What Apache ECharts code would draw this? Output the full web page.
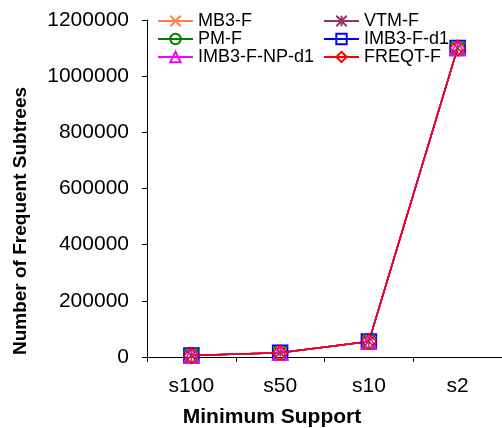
<!DOCTYPE html>
<html>
<head>
<meta charset="utf-8">
<script src="https://cdn.jsdelivr.net/npm/echarts@6/dist/echarts.min.js"></script>
<style>html,body{margin:0;padding:0;background:#fff;}#c{width:502px;height:428px;}</style>
</head>
<body>
<div id="c"></div>
<script>
var categories = ['s100', 's50', 's10', 's2'];
var yTicks = [0, 200000, 400000, 600000, 800000, 1000000, 1200000];
var mb3F = [5000, 15000, 55000, 1100000];
var vtmF = [5000, 15000, 55000, 1100000];
var pmF = [5000, 15000, 55000, 1100000];
var imb3Fd1 = [5000, 15000, 55000, 1100000];
var imb3FNPd1 = [5000, 15000, 55000, 1100000];
var freqtF = [5000, 15000, 55000, 1100000];
var seriesNames = ['MB3-F', 'VTM-F', 'PM-F', 'IMB3-F-d1', 'IMB3-F-NP-d1', 'FREQT-F'];

var FONT = '"Liberation Sans", Arial, sans-serif';
function mk(name, data, color, symbol) {
  return {
    name: name, type: 'line', data: data,
    symbol: symbol, symbolSize: 15,
    lineStyle: {color: color, width: 1.5},
    itemStyle: {color: 'rgba(0,0,0,0)', borderColor: color, borderWidth: 1.5},
    emphasis: {disabled: true},
    animation: false
  };
}
var legendText = {fontFamily: FONT, fontSize: 18, color: '#000', lineHeight: 17};
var chart = echarts.init(document.getElementById('c'));
chart.setOption({
  animation: false,
  backgroundColor: '#fff',
  grid: {left: 147, right: -12, top: 20, bottom: 71, containLabel: false},
  legend: [{
    orient: 'vertical', left: 157, top: 12, padding: 0, itemWidth: 35, itemHeight: 13, itemGap: 0,
    textStyle: legendText,
    data: ['MB3-F', 'PM-F', 'IMB3-F-NP-d1']
  }, {
    orient: 'vertical', left: 323, top: 12, padding: 0, itemWidth: 35, itemHeight: 13, itemGap: 0,
    textStyle: legendText,
    data: ['VTM-F', 'IMB3-F-d1', 'FREQT-F']
  }],
  xAxis: {
    type: 'category', data: categories, boundaryGap: true,
    axisLine: {lineStyle: {color: '#000', width: 1}},
    axisTick: {show: true, inside: false, length: 5, lineStyle: {color: '#000'}},
    axisLabel: {fontFamily: FONT, fontSize: 21, color: '#000', margin: 19},
    splitLine: {show: false}
  },
  yAxis: {
    type: 'value', min: yTicks[0], max: yTicks[yTicks.length - 1], interval: yTicks[1] - yTicks[0],
    axisLine: {show: true, lineStyle: {color: '#000', width: 1}},
    axisTick: {show: true, inside: false, length: 5, lineStyle: {color: '#000'}},
    axisLabel: {fontFamily: FONT, fontSize: 21, color: '#000', margin: 18, formatter: function (v) { return String(v); }},
    splitLine: {show: false}
  },
  graphic: [{
    type: 'text', x: 21, y: 221, rotation: Math.PI / 2,
    style: {text: 'Number of Frequent Subtrees', font: 'bold 19px ' + FONT, fill: '#000', align: 'center', verticalAlign: 'middle'}
  }, {
    type: 'text', x: 272, y: 417,
    style: {text: 'Minimum Support', font: 'bold 21px ' + FONT, fill: '#000', align: 'center', verticalAlign: 'middle'}
  }],
  series: [
    mk(seriesNames[0], mb3F, '#FF8040', 'path://M0,0L10,10M10,0L0,10'),
    mk(seriesNames[1], vtmF, '#993366', 'path://M0,0L10,10M10,0L0,10M5,0L5,10'),
    mk(seriesNames[2], pmF, '#008000', 'circle'),
    mk(seriesNames[3], imb3Fd1, '#0000FF', 'rect'),
    mk(seriesNames[4], imb3FNPd1, '#FF00FF', 'triangle'),
    mk(seriesNames[5], freqtF, '#FF0000', 'diamond')
  ]
});
</script>
</body>
</html>
